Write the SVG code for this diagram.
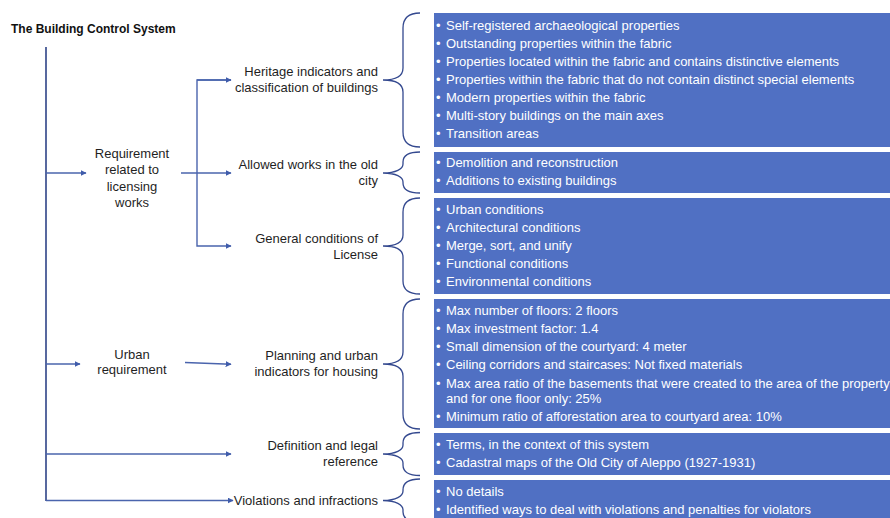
<svg xmlns="http://www.w3.org/2000/svg" width="890" height="518" viewBox="0 0 890 518">
<defs>
<style>
.t{font-family:"Liberation Sans",Arial,sans-serif;font-size:13px;fill:#1f1f1f}
.r{text-anchor:end}
.c{text-anchor:middle}
.b{font-family:"Liberation Sans",Arial,sans-serif;font-size:13px;fill:#ffffff}
.box{fill:#5070c3}
.br{fill:none;stroke:#34498f;stroke-width:1.3}
.ln{fill:none;stroke:#4a64ad;stroke-width:1.4}
.main{fill:none;stroke:#2e4387;stroke-width:1.6}
</style>
<marker id="ah" viewBox="0 0 10 10" refX="9" refY="5" markerWidth="6" markerHeight="6" markerUnits="userSpaceOnUse" orient="auto">
<path d="M0,0 L10,5 L0,10 z" fill="#3f5cab"/>
</marker>
</defs>
<rect width="890" height="518" fill="#ffffff"/>
<g id="title"><text class="t" x="11" y="32.5" style="font-weight:bold;font-size:12px;fill:#111">The Building Control System</text></g>

<g id="connectors">
<line class="main" x1="46" y1="47" x2="46" y2="501"/>
<line class="ln" x1="46" y1="173" x2="86" y2="173" marker-end="url(#ah)"/>
<line class="ln" x1="181" y1="173" x2="231" y2="173" marker-end="url(#ah)"/>
<polyline class="ln" points="231,80 197,80 197,246 231,246" marker-end="url(#ah)"/>
<line class="ln" x1="197" y1="80" x2="231" y2="80" marker-end="url(#ah)"/>
<line class="ln" x1="46" y1="364" x2="80" y2="364" marker-end="url(#ah)"/>
<line class="ln" x1="185" y1="362.5" x2="231" y2="364.3" marker-end="url(#ah)"/>
<line class="ln" x1="46" y1="454" x2="231" y2="454" marker-end="url(#ah)"/>
<line class="ln" x1="46" y1="500.5" x2="233" y2="500.5" marker-end="url(#ah)"/>
</g>

<g id="n-req"><text class="t c"><tspan x="132" y="157.5">Requirement</tspan><tspan x="132" y="174">related to</tspan><tspan x="132" y="190.5">licensing</tspan><tspan x="132" y="207">works</tspan></text></g>
<g id="n-urban"><text class="t c"><tspan x="132" y="358.5">Urban</tspan><tspan x="132" y="373.5">requirement</tspan></text></g>

<g id="n-heritage"><text class="t r"><tspan x="378" y="76">Heritage indicators and</tspan><tspan x="378" y="92">classification of buildings</tspan></text>
<path class="br" d="M420,13 C408,13 403,18 403,28 L403,68 C403,76 396,80 383,80 C396,80 403,84 403,92 L403,132 C403,142 408,147 420,147"/>
<rect class="box" x="434" y="13" width="460" height="134"/>
<text class="b"><tspan x="436" y="29.5">•</tspan><tspan x="446" y="29.5">Self-registered archaeological properties</tspan><tspan x="436" y="47.5">•</tspan><tspan x="446" y="47.5">Outstanding properties within the fabric</tspan><tspan x="436" y="65.5">•</tspan><tspan x="446" y="65.5">Properties located within the fabric and contains distinctive elements</tspan><tspan x="436" y="83.5">•</tspan><tspan x="446" y="83.5">Properties within the fabric that do not contain distinct special elements</tspan><tspan x="436" y="101.5">•</tspan><tspan x="446" y="101.5">Modern properties within the fabric</tspan><tspan x="436" y="119.5">•</tspan><tspan x="446" y="119.5">Multi-story buildings on the main axes</tspan><tspan x="436" y="137.5">•</tspan><tspan x="446" y="137.5">Transition areas</tspan></text>
</g>

<g id="n-allowed"><text class="t r"><tspan x="378" y="168.5">Allowed works in the old</tspan><tspan x="378" y="184.5">city</tspan></text>
<path class="br" d="M420,152 C407,152 403,157 403,162 L403,164 C403,169 396,173 383,173 C396,173 403,177 403,182 L403,183 C403,188 407,193 420,193"/>
<rect class="box" x="434" y="152" width="460" height="41"/>
<text class="b"><tspan x="436" y="166.5">•</tspan><tspan x="446" y="166.5">Demolition and reconstruction</tspan><tspan x="436" y="185">•</tspan><tspan x="446" y="185">Additions to existing buildings</tspan></text>
</g>

<g id="n-general"><text class="t r"><tspan x="378" y="243">General conditions of</tspan><tspan x="378" y="258.5">License</tspan></text>
<path class="br" d="M420,198 C408,198 403,203 403,212 L403,235 C403,242 396,246 383,246 C396,246 403,250 403,257 L403,281 C403,289 408,294 420,294"/>
<rect class="box" x="434" y="198" width="460" height="96"/>
<text class="b"><tspan x="436" y="213.5">•</tspan><tspan x="446" y="213.5">Urban conditions</tspan><tspan x="436" y="231.5">•</tspan><tspan x="446" y="231.5">Architectural conditions</tspan><tspan x="436" y="249.5">•</tspan><tspan x="446" y="249.5">Merge, sort, and unify</tspan><tspan x="436" y="267.5">•</tspan><tspan x="446" y="267.5">Functional conditions</tspan><tspan x="436" y="286">•</tspan><tspan x="446" y="286">Environmental conditions</tspan></text>
</g>

<g id="n-planning"><text class="t r"><tspan x="378" y="359.5">Planning and urban</tspan><tspan x="378" y="375.5">indicators for housing</tspan></text>
<path class="br" d="M420,299 C408,299 403,304 403,314 L403,352 C403,360 396,364 383,364 C396,364 403,368 403,376 L403,414 C403,424 408,429 420,429"/>
<rect class="box" x="434" y="299" width="460" height="129"/>
<text class="b"><tspan x="436" y="314.5">•</tspan><tspan x="446" y="314.5">Max number of floors: 2 floors</tspan><tspan x="436" y="332.5">•</tspan><tspan x="446" y="332.5">Max investment factor: 1.4</tspan><tspan x="436" y="350.5">•</tspan><tspan x="446" y="350.5">Small dimension of the courtyard: 4 meter</tspan><tspan x="436" y="369">•</tspan><tspan x="446" y="369">Ceiling corridors and staircases: Not fixed materials</tspan><tspan x="436" y="387.5">•</tspan><tspan x="446" y="387.5">Max area ratio of the basements that were created to the area of the property</tspan><tspan x="446" y="402.5">and for one floor only: 25%</tspan><tspan x="436" y="420.5">•</tspan><tspan x="446" y="420.5">Minimum ratio of afforestation area to courtyard area: 10%</tspan></text>
</g>

<g id="n-definition"><text class="t r"><tspan x="378" y="450">Definition and legal</tspan><tspan x="378" y="466">reference</tspan></text>
<path class="br" d="M420,432.5 C407,432.5 403,437 403,443 L403,445 C403,450 396,454 383,454 C396,454 403,458 403,463 L403,465 C403,471 407,475.5 420,475.5"/>
<rect class="box" x="434" y="433" width="460" height="42"/>
<text class="b"><tspan x="436" y="448.5">•</tspan><tspan x="446" y="448.5">Terms, in the context of this system</tspan><tspan x="436" y="467">•</tspan><tspan x="446" y="467">Cadastral maps of the Old City of Aleppo (1927-1931)</tspan></text>
</g>

<g id="n-violations"><text class="t r"><tspan x="378" y="504.5">Violations and infractions</tspan></text>
<path class="br" d="M420,479 C407,479 403,484 403,490 L403,491 C403,496 396,500.5 383,500.5 C396,500.5 403,505 403,510 L403,512 C403,518 407,522 420,522"/>
<rect class="box" x="434" y="480" width="460" height="45"/>
<text class="b"><tspan x="436" y="495.5">•</tspan><tspan x="446" y="495.5">No details</tspan><tspan x="436" y="513.5">•</tspan><tspan x="446" y="513.5">Identified ways to deal with violations and penalties for violators</tspan></text>
</g>
</svg>
